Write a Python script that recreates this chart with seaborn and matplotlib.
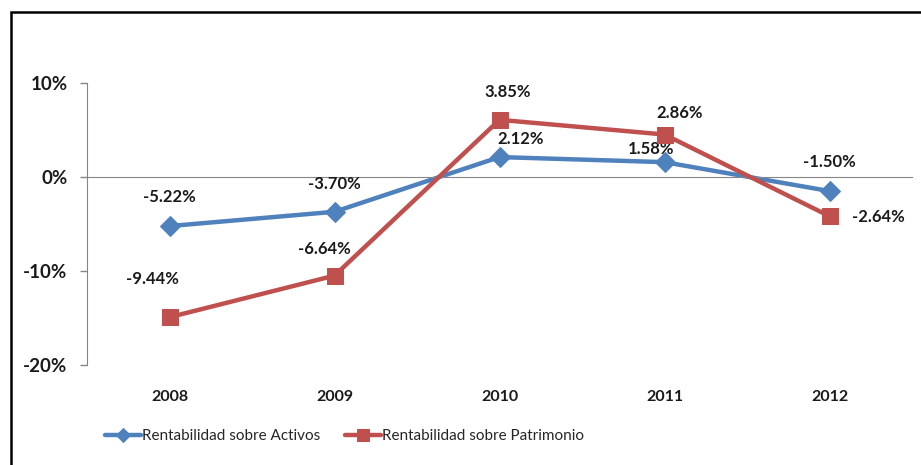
import numpy as np
import pandas as pd
import matplotlib
matplotlib.use("Agg")
import matplotlib.pyplot as plt
import seaborn as sns

# chart data
years = ["2008", "2009", "2010", "2011", "2012"]
activos = [-5.22, -3.70, 2.12, 1.58, -1.50]
patrimonio = [-9.44, -6.64, 3.85, 2.86, -2.64]
serie_activos = "Rentabilidad sobre Activos"
serie_patrimonio = "Rentabilidad sobre Patrimonio"

# label offsets in pixels (dx, dy)
off_activos = [(0, 29), (0, 28), (21, 18), (-13, 13), (0, 29)]
off_patrimonio = [(-17, 38), (-10, 27), (8, 28), (15, 22), (49, -1)]

sns.set_style("white")
plt.rcParams['font.family'] = ['Lato', 'DejaVu Sans']

blue = "#4F81BD"
red = "#C0504D"
gray = "#868686"

df = pd.DataFrame({"pos": np.arange(len(years)), "activos": activos, "patrimonio": patrimonio})

fig = plt.figure(figsize=(9.21, 4.65), dpi=100)
ax = fig.add_axes([87 / 921, 1 - 365 / 465, (912 - 87) / 921, (365 - 83) / 465])
ax2 = ax.twinx()

sns.lineplot(data=df, x="pos", y="activos", ax=ax, color=blue, lw=3.2,
             marker="D", markersize=10, markeredgecolor=blue, label=serie_activos, legend=False)
sns.lineplot(data=df, x="pos", y="patrimonio", ax=ax2, color=red, lw=3.2,
             marker="s", markersize=12, markeredgecolor=red, label=serie_patrimonio, legend=False)

ax.set_xlim(-0.5, len(years) - 0.5)
ax.set_ylim(-20, 10)
# secondary (hidden) scale for the equity series
k = 1.58
ax2.set_ylim(-20 / k, 10 / k)
ax2.axis("off")

# axes styling
for s in ["top", "right"]:
    ax.spines[s].set_visible(False)
ax.spines["left"].set_color(gray)
ax.spines["bottom"].set_color(gray)
ax.spines["bottom"].set_position(("data", 0))
ax.set_yticks([-20, -10, 0, 10])
ax.set_yticklabels([f"{v}%" for v in [-20, -10, 0, 10]], fontsize=13.5, fontweight="bold", color="#1a1a1a")
ax.tick_params(axis="y", direction="out", length=5, color=gray, width=1, pad=9)
ax.set_xticks(np.arange(-0.5, len(years), 1.0))
ax.tick_params(axis="x", direction="out", length=6.5, color=gray, width=1, labelbottom=False)
ax.set_xlabel("")
ax.set_ylabel("")

sec = ax.secondary_xaxis("bottom")
sec.set_xticks(np.arange(len(years)))
sec.set_xticklabels(years, fontsize=11.5, fontweight="bold", color="#1a1a1a")
sec.tick_params(length=0, pad=18)
sec.spines["bottom"].set_visible(False)

# data labels
for i, v in enumerate(activos):
    ax.annotate(f"{v:.2f}%", (i, v), xytext=off_activos[i], textcoords="offset pixels",
                ha="center", va="center", fontsize=12, fontweight="bold", color="#1a1a1a")
for i, v in enumerate(patrimonio):
    ax2.annotate(f"{v:.2f}%", (i, v), xytext=off_patrimonio[i], textcoords="offset pixels",
                 ha="center", va="center", fontsize=12, fontweight="bold", color="#1a1a1a")

# legend
h1, l1 = ax.get_legend_handles_labels()
h2, l2 = ax2.get_legend_handles_labels()
fig.legend(h1 + h2, l1 + l2, loc="center", bbox_to_anchor=(0.374, 0.062), ncol=2,
           frameon=False, fontsize=11, handlelength=2.4, handletextpad=0.05,
           columnspacing=1.6, markerscale=0.75)

# outer frame (partly cropped)
frame = plt.Rectangle((10.5 / 921, -0.5), 1.2, 1.5 - 12.5 / 465, transform=fig.transFigure,
                      fill=False, ec="black", lw=1.8)
fig.add_artist(frame)

fig.savefig("out.png", dpi=100)
